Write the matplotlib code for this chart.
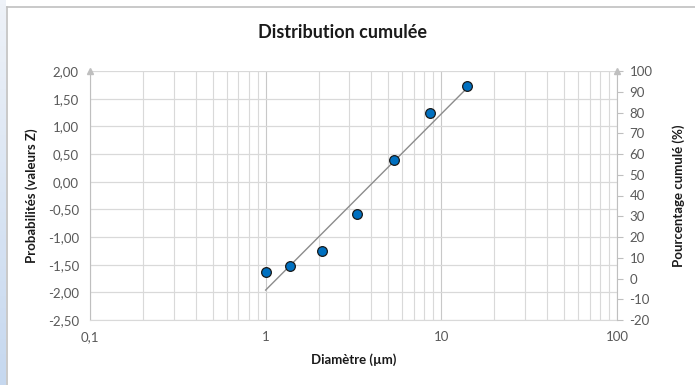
import numpy as np
import matplotlib
matplotlib.use("Agg")
from matplotlib import pyplot as plt
from matplotlib.ticker import FixedLocator, FuncFormatter, NullFormatter
from matplotlib.lines import Line2D

# data
diametre = [1.0, 1.37, 2.10, 3.31, 5.39, 8.63, 14.05]      # µm
valeurs_z = [-1.63, -1.52, -1.25, -0.58, 0.39, 1.24, 1.72]

left_ticks = [-2.5, -2.0, -1.5, -1.0, -0.5, 0.0, 0.5, 1.0, 1.5, 2.0]
right_ticks = [-20, -10, 0, 10, 20, 30, 40, 50, 60, 70, 80, 90, 100]
x_ticks = [0.1, 1, 10, 100]

plt.rcParams['font.family'] = ['Lato', 'DejaVu Sans']
plt.rcParams['axes.unicode_minus'] = False

grid_c = '#d9d9d9'
txt_c = '#595959'

fig = plt.figure(figsize=(6.95, 3.85), dpi=100)

# bluish strip at the left and frame border
strip = fig.add_axes([0, 0, 6 / 695, 1])
grad = np.linspace(0, 1, 100).reshape(-1, 1)
strip.imshow(grad, aspect='auto', cmap=matplotlib.colors.LinearSegmentedColormap.from_list(
    'g', ['#eef2f8', '#c6d8ef']), extent=[0, 1, 0, 1])
strip.axis('off')
fig.add_artist(Line2D([6.5 / 695, 6.5 / 695], [0, 1 - 7 / 385], color='#c0c0c0', lw=1.2))
fig.add_artist(Line2D([6.5 / 695, 1], [1 - 7 / 385, 1 - 7 / 385], color='#c0c0c0', lw=1.2))

ax = fig.add_axes([90 / 695, 1 - 320 / 385, 527 / 695, 249 / 385])
ax.set_xscale('log')
ax.set_xlim(0.1, 100)
ax.set_ylim(-2.5, 2.0)

ax.xaxis.set_major_locator(FixedLocator(x_ticks))
minors = [m * 10.0 ** e for e in (-1, 0, 1) for m in range(2, 10)]
ax.xaxis.set_minor_locator(FixedLocator(minors))
ax.xaxis.set_minor_formatter(NullFormatter())
ax.xaxis.set_major_formatter(FuncFormatter(lambda v, p: ('%g' % v).replace('.', ',')))
ax.yaxis.set_major_locator(FixedLocator(left_ticks))
ax.yaxis.set_major_formatter(FuncFormatter(lambda v, p: ('%.2f' % v).replace('.', ',')))

ax.grid(True, which='major', axis='x', color='#c8c8c8', lw=0.8)
ax.grid(True, which='major', axis='y', color=grid_c, lw=0.9)
ax.grid(True, which='minor', axis='x', color=grid_c, lw=0.8)
ax.set_axisbelow(True)
ax.tick_params(which='both', length=0, labelsize=9.5, colors=txt_c, pad=8)
for s in ['top', 'right']:
    ax.spines[s].set_visible(False)
ax.spines['left'].set_color('#bfbfbf')
ax.spines['bottom'].set_color(grid_c)

# regression trendline on log10(x)
lx = np.log10(diametre)
k, b = np.polyfit(lx, valeurs_z, 1)
xt = np.array([min(diametre), max(diametre)])
ax.plot(xt, k * np.log10(xt) + b, color='#8c8c8c', lw=1.0, zorder=3)

ax.plot(diametre, valeurs_z, 'o', ms=7, mfc='#0070c0', mec='#1a1a1a', mew=0.9, zorder=4)

ax.set_xlabel('Diamètre (µm)', fontsize=9.5, fontweight='bold', color='#1a1a1a', labelpad=7)
ax.set_ylabel('Probabilités (valeurs Z)', fontsize=9.5, fontweight='bold', color='#1a1a1a', labelpad=7)

ax2 = ax.twinx()
ax2.set_ylim(-20, 100)
ax2.yaxis.set_major_locator(FixedLocator(right_ticks))
ax2.tick_params(length=4, width=0.8, color='#bfbfbf', labelsize=9.5, labelcolor=txt_c, pad=5)
for s in ['top', 'left', 'bottom']:
    ax2.spines[s].set_visible(False)
ax2.spines['right'].set_color('#bfbfbf')
ax2.set_ylabel('Pourcentage cumulé (%)', fontsize=9.5, fontweight='bold', color='#1a1a1a', labelpad=14)

# small arrow heads on top of the vertical axes
for xa in (0, 1):
    ax.plot([xa], [1.0], marker='^', ms=4, color='#bfbfbf', transform=ax.transAxes, clip_on=False)

fig.text(343 / 695, 1 - 33 / 385, 'Distribution cumulée', ha='center', va='center',
         fontsize=13, fontweight='bold', color='#1a1a1a')

fig.savefig('out.png', dpi=100)
